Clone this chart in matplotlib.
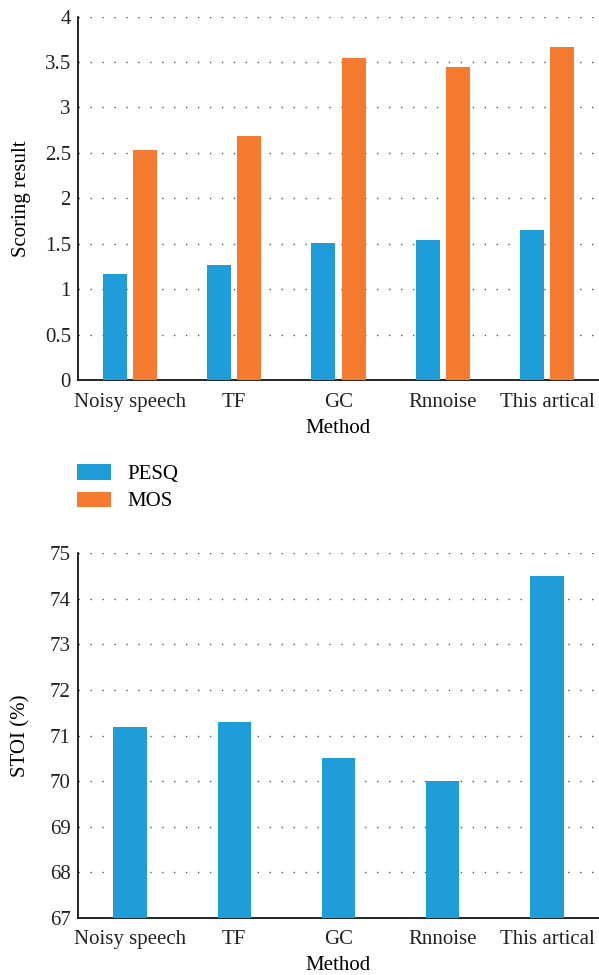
import matplotlib.pyplot as plt
import numpy as np

plt.rcParams["font.family"] = ["Liberation Serif", "DejaVu Serif"]

methods = ["Noisy speech", "TF", "GC", "Rnnoise", "This artical"]
pesq = [1.17, 1.27, 1.51, 1.54, 1.65]
mos = [2.53, 2.69, 3.54, 3.45, 3.67]
stoi = [71.2, 71.3, 70.5, 70.0, 74.5]

blue = "#1e9dd8"
orange = "#f47b30"
fs = 15

fig = plt.figure(figsize=(5.99, 9.75), dpi=100)
ax1 = fig.add_axes([0.130, 0.610, 0.870, 0.373])
ax2 = fig.add_axes([0.130, 0.0585, 0.870, 0.374])

x = np.arange(len(methods))
ax1.bar(x - 0.145, pesq, width=0.23, color=blue, label="PESQ", zorder=3)
ax1.bar(x + 0.145, mos, width=0.23, color=orange, label="MOS", zorder=3)
ax1.set_ylim(0, 4)
ax1.set_yticks(np.arange(0, 4.01, 0.5))
ax1.set_yticklabels(["0", "0.5", "1", "1.5", "2", "2.5", "3", "3.5", "4"])
ax1.set_ylabel("Scoring result", fontsize=fs)

ax2.bar(x, stoi, width=0.32, color=blue, zorder=3)
ax2.set_ylim(67, 75)
ax2.set_yticks(range(67, 76))
ax2.set_ylabel("STOI (%)", fontsize=fs)

for ax in (ax1, ax2):
    ax.set_xlim(-0.5, 4.5)
    ax.set_xticks(x)
    ax.set_xticklabels(methods)
    ax.set_xlabel("Method", fontsize=fs, labelpad=5)
    ax.tick_params(axis="x", pad=9)
    ax.tick_params(length=0, labelsize=fs, colors="#222222")
    ax.tick_params(axis="y", pad=5)
    ax.spines["top"].set_visible(False)
    ax.spines["right"].set_visible(False)
    ax.spines["left"].set_linewidth(1.2)
    ax.spines["bottom"].set_linewidth(1.2)
    ax.grid(True, axis="y", color="#555555", linestyle=(0, (1, 7.6)), linewidth=1, zorder=0)
    ax.yaxis.set_label_coords(-0.09, 0.5)

handles, labels = ax1.get_legend_handles_labels()
fig.legend(handles, labels, loc="upper left", bbox_to_anchor=(0.098, 0.543),
           frameon=False, fontsize=fs, handlelength=1.6, handleheight=0.75,
           handletextpad=0.8, labelspacing=0.35)

plt.savefig("out.png", dpi=100)
